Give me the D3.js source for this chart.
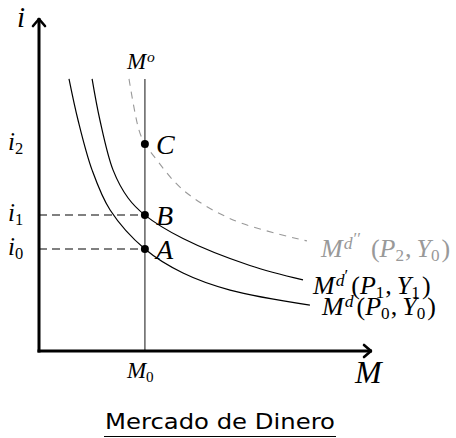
<!DOCTYPE html>
<html>
<head>
<meta charset="utf-8">
<script src="https://cdn.jsdelivr.net/npm/d3@7"></script>
<style>
  html, body { margin: 0; padding: 0; background: #fff; }
  svg { display: block; }
</style>
</head>
<body>
<svg id="chart" width="456" height="438"></svg>
<script>
// ---- data (abstract units) ----
const M0 = 35.3;                 // money supply
const rates = { i0: 34, i1: 45.3, i2: 69 };
const curveTop = 90.7;           // top of curves / supply line
const mdP0Y0 = [[10,90.7],[13,77],[17.7,60.3],[23.7,47],[35.3,34],[48,26],[63.7,20.3],[90.3,15.3]];
const mdP1Y1 = [[17.7,90.7],[20.3,77],[24.7,60.3],[29.7,51],[35.3,45.3],[48,37.5],[70.3,28.5],[88,23.7]];
const mdP2Y0 = [[30,90.7],[33.3,73.7],[35.3,69],[38,65.3],[48,53.7],[64.7,43.7],[89.3,36.7]];
const points = [
  { name: "A", x: M0, y: rates.i0 },
  { name: "B", x: M0, y: rates.i1 },
  { name: "C", x: M0, y: rates.i2 }
];
const title = "Mercado de Dinero";

// ---- scales ----
const x = d3.scaleLinear().domain([0, 111]).range([39, 372]);
const y = d3.scaleLinear().domain([0, 111]).range([351, 18]);

const svg = d3.select("#chart");
const serif = "'Liberation Serif', 'Times New Roman', serif";

// math text helper: segments [{t, s}] s: n(normal), sub, sup, sup2
function mathText(g, px, py, segs, size, fill) {
  const text = g.append("text").attr("x", px).attr("y", py)
    .attr("font-family", serif).attr("font-size", size).attr("fill", fill || "#000");
  const off = { n: 0, sub: 0.17, sup: -0.32, sup2: -0.5 };
  const sc = { n: 1, sub: 0.66, sup: 0.68, sup2: 0.65 };
  let cur = 0;
  segs.forEach(sg => {
    const s = sg.s || "n";
    const target = off[s] * size;
    text.append("tspan")
      .attr("dy", target - cur)
      .attr("dx", sg.dx || 0)
      .attr("font-size", size * sc[s])
      .attr("font-style", sg.up ? "normal" : "italic")
      .text(sg.t);
    cur = target;
  });
  return text;
}

// ---- M0 vertical supply line ----
svg.append("line")
  .attr("x1", x(M0)).attr("x2", x(M0))
  .attr("y1", y(curveTop)).attr("y2", y(0))
  .attr("stroke", "#555").attr("stroke-width", 1.4);

// ---- dashed guides ----
[rates.i0, rates.i1].forEach(r => {
  svg.append("line")
    .attr("x1", x(0)).attr("x2", x(M0))
    .attr("y1", y(r)).attr("y2", y(r))
    .attr("stroke", "#808080").attr("stroke-width", 2)
    .attr("stroke-dasharray", "8,5");
});

// ---- curves ----
const line = d3.line().x(d => x(d[0])).y(d => y(d[1])).curve(d3.curveCatmullRom.alpha(0.5));
svg.append("path").datum(mdP2Y0).attr("d", line)
  .attr("fill", "none").attr("stroke", "#999").attr("stroke-width", 1.1)
  .attr("stroke-dasharray", "7,6");
svg.append("path").datum(mdP1Y1).attr("d", line)
  .attr("fill", "none").attr("stroke", "#000").attr("stroke-width", 1.2);
svg.append("path").datum(mdP0Y0).attr("d", line)
  .attr("fill", "none").attr("stroke", "#000").attr("stroke-width", 1.2);

// ---- axes ----
const axisG = svg.append("g");
axisG.append("path")
  .attr("d", `M${x(0)},${y(0)+1.5}V${y(111)}`)
  .attr("stroke", "#000").attr("stroke-width", 3).attr("fill", "none");
axisG.append("path")
  .attr("d", `M${x(0)-1.5},${y(0)}H${x(111)}`)
  .attr("stroke", "#000").attr("stroke-width", 3).attr("fill", "none");
// arrow heads
axisG.append("path")
  .attr("d", `M${x(0)-6},${y(111)+8}L${x(0)},${y(111)+1}L${x(0)+6},${y(111)+8}`)
  .attr("stroke", "#000").attr("stroke-width", 2.6).attr("fill", "none")
  .attr("stroke-linejoin", "round").attr("stroke-linecap", "round");
axisG.append("path")
  .attr("d", `M${x(111)-8},${y(0)-6}L${x(111)-1},${y(0)}L${x(111)-8},${y(0)+6}`)
  .attr("stroke", "#000").attr("stroke-width", 2.6).attr("fill", "none")
  .attr("stroke-linejoin", "round").attr("stroke-linecap", "round");

// ---- points ----
svg.selectAll("circle.pt").data(points).enter().append("circle")
  .attr("class", "pt")
  .attr("cx", d => x(d.x)).attr("cy", d => y(d.y)).attr("r", 4).attr("fill", "#000");
svg.selectAll("text.ptl").data(points).enter().append("text")
  .attr("class", "ptl")
  .attr("x", d => x(d.x) + 11).attr("y", d => y(d.y) + 10)
  .attr("font-family", serif).attr("font-style", "italic").attr("font-size", 28)
  .text(d => d.name);

// ---- axis labels ----
mathText(svg, 17, 27, [{ t: "i" }], 29);
mathText(svg, 355, 383, [{ t: "M" }], 32);
mathText(svg, x(M0) - 18, 378, [{ t: "M" }, { t: "0", s: "sub", up: true }], 23);
mathText(svg, x(M0) - 18, 69, [{ t: "M" }, { t: "o", s: "sup", dx: 1 }], 23);
mathText(svg, 8, y(rates.i2) + 6, [{ t: "i" }, { t: "2", s: "sub", up: true }], 25);
mathText(svg, 8, y(rates.i1) + 6, [{ t: "i" }, { t: "1", s: "sub", up: true }], 25);
mathText(svg, 8, y(rates.i0) + 6, [{ t: "i" }, { t: "0", s: "sub", up: true }], 25);

// ---- curve labels ----
mathText(svg, 321, 257, [
  { t: "M" }, { t: "d", s: "sup", dx: 1 }, { t: "′′", s: "sup2", up: true, dx: 1 },
  { t: "(", up: true, dx: 10 }, { t: "P" }, { t: "2", s: "sub", up: true },
  { t: ",", up: true, dx: 1 }, { t: "Y", dx: 5 }, { t: "0", s: "sub", up: true }, { t: ")", up: true, dx: 2 }
], 26, "#999");
mathText(svg, 313, 294, [
  { t: "M" }, { t: "d", s: "sup", dx: 1 }, { t: "′", s: "sup2", up: true, dx: 0 },
  { t: "(", up: true, dx: 3 }, { t: "P" }, { t: "1", s: "sub", up: true },
  { t: ",", up: true, dx: 1 }, { t: "Y", dx: 5 }, { t: "1", s: "sub", up: true }, { t: ")", up: true, dx: 2 }
], 26);
mathText(svg, 322, 315, [
  { t: "M" }, { t: "d", s: "sup", dx: 1 },
  { t: "(", up: true, dx: 3 }, { t: "P" }, { t: "0", s: "sub", up: true },
  { t: ",", up: true, dx: 1 }, { t: "Y", dx: 5 }, { t: "0", s: "sub", up: true }, { t: ")", up: true, dx: 2 }
], 26);

// ---- title ----
svg.append("text")
  .attr("x", 220).attr("y", 429)
  .attr("text-anchor", "middle")
  .attr("font-family", "'DejaVu Sans', sans-serif").attr("font-size", 21)
  .attr("textLength", 230).attr("lengthAdjust", "spacingAndGlyphs")
  .text(title);
svg.append("line")
  .attr("x1", 104).attr("x2", 336).attr("y1", 436.5).attr("y2", 436.5)
  .attr("stroke", "#000").attr("stroke-width", 1);
</script>
</body>
</html>
